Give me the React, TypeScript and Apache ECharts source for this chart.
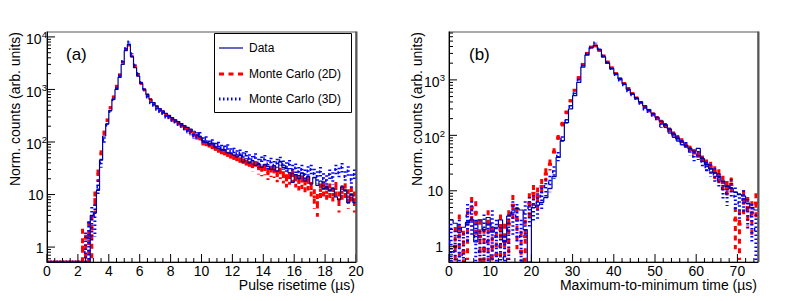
import { useEffect, useRef } from "react";
import * as echarts from "echarts";

const FONT = "'Liberation Sans', Arial, Helvetica, sans-serif";

// ---------- Panel (a): pulse risetime, 100 bins of 0.2 µs ----------
const A_BIN_WIDTH = 0.2;
const A_X_RANGE = [0, 20];
const A_Y_RANGE = [0.52, 12400];
const A_X_LABELS = [0, 2, 4, 6, 8, 10, 12, 14, 16, 18, 20];
const A_X_MINOR_STEP = 0.5;
const A_Y_DECADES = [1, 10, 100, 1000, 10000];
const A_Y_EXPONENTS = [0, 1, 2, 3, 4];

const A_DATA = [
  0, 0, 0, 0, 0, 0, 0, 0, 0, 0, 0, 0, 0, 0,
  4, 4.5, 12, 45, 130, 220, 400, 650, 1000, 1700, 3000, 5500, 7200, 4200, 2600, 1800,
  1300, 1000, 800, 650, 560, 480, 430, 390, 350, 320, 290, 265, 245, 225, 205, 190,
  175, 160, 150, 125, 105,
  98, 92, 95, 80, 76, 70, 72, 62, 60, 56, 52, 55, 42, 48, 40, 44, 36, 38, 33, 37,
  34, 30, 35, 28, 42, 33, 31, 26, 17, 24, 20, 26, 18, 22, 16, 21, 15, 18, 13, 14,
  12, 13, 9, 8, 14, 12, 7, 10, 7,
];
const A_MC2D = [
  0, 0, 0, 0, 0, 0, 0, 0, 0, 0, 0,
  1.0, 0.7, 1.6, 2.2, 8, 24, 60, 150, 260, 450, 720, 1150, 1900, 3300, 5800, 7000,
  4300, 2800, 1900, 1300, 980, 790, 640, 540, 470, 410, 370, 330, 300, 265, 250, 225,
  205, 185, 170, 160, 140, 130, 120, 95,
  92, 86, 80, 74, 68, 63, 60, 56, 52, 49, 46, 43, 41, 38, 36, 34, 36, 31, 29, 30,
  25, 28, 27, 23, 26, 22, 19, 21, 23, 19, 17, 18, 16, 17, 13, 9, 7, 12, 13, 11,
  12, 10, 13, 8, 11, 12, 9, 10, 8,
];
const A_MC3D = [
  0, 0, 0, 0, 0, 0, 0, 0, 0, 0, 0, 0,
  0.8, 1.5, 3.5, 4, 14, 40, 110, 210, 380, 640, 1050, 1800, 3400, 6000, 8000, 4800,
  2900, 2000, 1350, 1000, 720, 560, 500, 420, 380, 350, 300, 290, 260, 240, 215, 200,
  180, 160, 150, 130, 125, 140, 110,
  115, 95, 100, 85, 90, 78, 75, 80, 66, 68, 60, 62, 55, 58, 50, 46, 52, 40, 45, 48,
  38, 42, 36, 40, 44, 37, 34, 38, 30, 32, 27, 30, 24, 28, 30, 25, 22, 27, 20, 18,
  24, 21, 30, 26, 33, 22, 28, 19, 24,
];

// ---------- Panel (b): maximum-to-minimum time, 75 bins of 1 µs ----------
const B_BIN_WIDTH = 1;
const B_X_RANGE = [0, 75];
const B_Y_RANGE = [0.52, 7300];
const B_X_LABELS = [0, 10, 20, 30, 40, 50, 60, 70];
const B_X_MINOR_STEP = 2;
const B_Y_DECADES = [1, 10, 100, 1000];
const B_Y_EXPONENTS = [0, 1, 2, 3];

const B_DATA = [
  3.0, 2.6, 1.8, 2.2, 2.7, 3.0, 1.2, 3.0, 2.0, 3.3,
  1.8, 2.2, 3.0, 1.2, 3.5, 4.1, 4.8, 4.5, 2.0, 0,
  5, 5.5, 6.2, 7.5, 11, 18, 40, 80, 170, 300,
  520, 900, 1700, 2800, 3800, 4200, 3500, 2600, 2000, 1600,
  1300, 1050, 850, 680, 560, 470, 400, 340, 290, 250,
  210, 180, 155, 130, 105, 88, 76, 66, 57, 52,
  58, 38, 30, 25, 21, 18, 15, 12, 11, 9.5,
  8.5, 8, 6, 5, 4.5,
];
const B_MC2D = [
  0, 1.0, 2.0, 0.8, 2.5, 5.0, 4.0, 1.5, 0.9, 2.5,
  1.0, 0.7, 2.0, 1.2, 2.5, 5.5, 3.0, 0.8, 1.5, 6,
  9, 8, 12, 20, 30, 50, 90, 160, 260, 420,
  650, 1100, 1900, 3000, 3900, 4100, 3400, 2700, 2100, 1650,
  1300, 1050, 860, 700, 570, 470, 390, 330, 280, 240,
  205, 175, 150, 125, 105, 90, 78, 64, 56, 48,
  42, 36, 30, 27, 22, 19, 14, 11, 13, 3,
  2.5, 7, 5, 4, 6,
];
const B_MC3D = [
  1.2, 0.8, 1.5, 0.7, 3.5, 4.0, 1.5, 0.8, 2.0, 1.2,
  2.5, 1.5, 1.0, 0.6, 2.0, 4.0, 3.5, 1.5, 4.0, 5.0,
  5.5, 6, 8, 12, 14, 22, 42, 85, 180, 330,
  560, 1000, 1800, 2900, 3800, 4600, 3600, 2700, 2050, 1600,
  1250, 1000, 820, 640, 540, 460, 380, 300, 270, 230,
  200, 150, 150, 120, 100, 85, 72, 66, 52, 42,
  44, 34, 27, 24, 20, 16, 11, 9, 12, 8,
  6, 7, 4.5, 3.5, 2.0,
];

const LEGEND_LABELS = ["Data", "Monte Carlo (2D)", "Monte Carlo (3D)"];
const A_X_TITLE = "Pulse risetime (µs)";
const B_X_TITLE = "Maximum-to-minimum time (µs)";
const Y_TITLE = "Norm. counts (arb. units)";

const COLOR_DATA = "#000099";
const COLOR_2D = "#ff0000";
const COLOR_3D = "#0000ff";
const DASH_2D = [5, 4.5];
const DASH_3D = [1.5, 2.5];

function histErrSeries(xIdx: number, yIdx: number, values: number[], binW: number, yRange: number[], color: string, dash: number[], k: number, z: number) {
  const yMin = yRange[0], yMax = yRange[1];
  const data = values.map((v, i) => [i * binW, (i + 1) * binW, Math.min(Math.max(v, yMin), yMax), v > 0 ? Math.sqrt(v * k) : 0, v]);
  return {
    type: "custom",
    xAxisIndex: xIdx,
    yAxisIndex: yIdx,
    clip: true,
    silent: true,
    z,
    encode: { x: [0, 1], y: 2 },
    data,
    renderItem: (params: any, api: any) => {
      const lo = api.value(0), hi = api.value(1), yv = api.value(2), e = api.value(3), v = api.value(4);
      const a = api.coord([lo, yv]);
      const b = api.coord([hi, yv]);
      const style = { stroke: color, lineWidth: 3, lineDash: dash, fill: null };
      const children: any[] = [{ type: "line", shape: { x1: a[0], y1: a[1], x2: b[0], y2: b[1] }, style }];
      if (v > 0 && e > 0) {
        const mid = (lo + hi) / 2;
        const top = api.coord([mid, Math.min(v + e, yMax)]);
        const bot = api.coord([mid, Math.max(v - e, yMin)]);
        children.push({ type: "line", shape: { x1: top[0], y1: top[1], x2: bot[0], y2: bot[1] }, style });
      }
      return { type: "group", children };
    },
  };
}

function stepSeries(xIdx: number, yIdx: number, values: number[], binW: number, yRange: number[]) {
  const pts = values.map((v, i) => [i * binW, Math.max(v, yRange[0])]);
  pts.push([values.length * binW, Math.max(values[values.length - 1], yRange[0])]);
  return {
    type: "line",
    xAxisIndex: xIdx,
    yAxisIndex: yIdx,
    step: "end",
    symbol: "none",
    silent: true,
    clip: true,
    z: 4,
    data: pts,
    lineStyle: { color: COLOR_DATA, width: 1.2 },
  };
}

function decorSeries(xIdx: number, yIdx: number, cfg: any) {
  const specs: any[] = [];
  const [xMin, xMax] = cfg.xRange;
  const [yMin, yMax] = cfg.yRange;
  const n = Math.floor((xMax - xMin) / cfg.xMinorStep + 1e-9);
  for (let i = 0; i <= n; i++) {
    const t = xMin + i * cfg.xMinorStep;
    const major = cfg.xLabels.some((l: number) => Math.abs(l - t) < 1e-9);
    if (!major) specs.push({ kind: "tick", x: t, y: yMin, dx: 0, dy: -4 });
  }
  for (const t of cfg.xLabels) {
    specs.push({ kind: "tick", x: t, y: yMin, dx: 0, dy: -8 });
    specs.push({ kind: "text", x: t, y: yMin, ox: 0, oy: 8.5, text: String(t), size: 14, align: "center" });
  }
  const bases = [0.1, 1, 10, 100, 1000, 10000];
  for (const b of bases) {
    for (let m = 2; m <= 9; m++) {
      const v = m * b;
      if (v > yMin && v < yMax) specs.push({ kind: "tick", x: xMin, y: v, dx: 4, dy: 0 });
    }
  }
  cfg.yDecades.forEach((d: number, i: number) => {
    const e = cfg.yExps[i];
    specs.push({ kind: "tick", x: xMin, y: d, dx: 8, dy: 0 });
    if (e <= 1) {
      specs.push({ kind: "text", x: xMin, y: d, ox: -cfg.gap, oy: 0.5, text: String(d), size: 14, align: "right" });
    } else {
      specs.push({ kind: "text", x: xMin, y: d, ox: -cfg.powGap, oy: 2.5, text: "10", size: 14, align: "right" });
      specs.push({ kind: "text", x: xMin, y: d, ox: -cfg.powGap + 0.3, oy: -2, text: String(e), size: 9.5, align: "left" });
    }
  });
  return {
    type: "custom",
    xAxisIndex: xIdx,
    yAxisIndex: yIdx,
    clip: false,
    silent: true,
    z: 10,
    encode: { x: 0, y: 1 },
    data: specs.map((s) => [s.x, s.y]),
    renderItem: (params: any, api: any) => {
      const s = specs[params.dataIndex];
      const p = api.coord([s.x, s.y]);
      if (s.kind === "tick") {
        return { type: "line", shape: { x1: p[0], y1: p[1], x2: p[0] + s.dx, y2: p[1] + s.dy }, style: { stroke: "#000", lineWidth: 1 } };
      }
      return {
        type: "text",
        x: p[0] + s.ox,
        y: p[1] + s.oy,
        style: { text: s.text, fontSize: s.size, fontFamily: FONT, fill: "#000", align: s.align, verticalAlign: "middle" },
      };
    },
  };
}

function axisPair(gridIndex: number, xRange: number[], yRange: number[]) {
  const line = { show: true, onZero: false, lineStyle: { color: "#000", width: 1 } };
  return {
    x: { gridIndex, type: "value", min: xRange[0], max: xRange[1], axisLine: line, axisTick: { show: false }, axisLabel: { show: false }, splitLine: { show: false } },
    y: { gridIndex, type: "log", logBase: 10, min: yRange[0], max: yRange[1], axisLine: line, axisTick: { show: false }, axisLabel: { show: false }, splitLine: { show: false }, minorTick: { show: false } },
  };
}

function buildOption() {
  const ax0 = axisPair(0, A_X_RANGE, A_Y_RANGE);
  const ax1 = axisPair(1, B_X_RANGE, B_Y_RANGE);
  const gridStyle = { show: true, borderColor: "#555", borderWidth: 1.2, backgroundColor: "transparent" };
  const txt = (x: number, y: number, text: string, size: number, align: string, vAlign = "middle", extra: any = {}) => ({
    type: "text",
    x,
    y,
    z: 20,
    ...extra,
    style: { text, fontSize: size, fontFamily: FONT, fill: "#000", align, verticalAlign: vAlign },
  });
  const legendY = [48, 74, 99];
  const graphic: any[] = [
    { type: "line", z: 15, shape: { x1: 356.5, y1: 31.5, x2: 356.5, y2: 262 }, style: { stroke: "#555", lineWidth: 2 } },
    { type: "line", z: 15, shape: { x1: 758.5, y1: 31.5, x2: 758.5, y2: 262 }, style: { stroke: "#555", lineWidth: 2 } },
    txt(66, 54, "(a)", 17, "left"),
    txt(469, 54, "(b)", 17, "left"),
    txt(355, 285, A_X_TITLE, 14, "right"),
    txt(757, 285, B_X_TITLE, 14, "right"),
    txt(22, 32, Y_TITLE, 14, "right", "bottom", { rotation: Math.PI / 2 }),
    txt(424, 32, Y_TITLE, 14, "right", "bottom", { rotation: Math.PI / 2 }),
    { type: "rect", z: 18, shape: { x: 214.5, y: 33.5, width: 137, height: 79 }, style: { fill: "#fff", stroke: "#000", lineWidth: 1 } },
    { type: "line", z: 19, shape: { x1: 219, y1: legendY[0], x2: 243, y2: legendY[0] }, style: { stroke: COLOR_DATA, lineWidth: 1.2 } },
    { type: "line", z: 19, shape: { x1: 219, y1: legendY[1], x2: 243, y2: legendY[1] }, style: { stroke: COLOR_2D, lineWidth: 3, lineDash: DASH_2D } },
    { type: "line", z: 19, shape: { x1: 219, y1: legendY[2], x2: 243, y2: legendY[2] }, style: { stroke: COLOR_3D, lineWidth: 3, lineDash: DASH_3D } },
    ...LEGEND_LABELS.map((l, i) => txt(249, legendY[i], l, 12, "left")),
  ];
  return {
    animation: false,
    backgroundColor: "#fff",
    grid: [
      { left: 47, top: 32, width: 309, height: 230, ...gridStyle },
      { left: 449, top: 32, width: 309, height: 230, ...gridStyle },
    ],
    xAxis: [ax0.x, ax1.x],
    yAxis: [ax0.y, ax1.y],
    series: [
      histErrSeries(0, 0, A_MC2D, A_BIN_WIDTH, A_Y_RANGE, COLOR_2D, DASH_2D, 1.5, 2),
      histErrSeries(0, 0, A_MC3D, A_BIN_WIDTH, A_Y_RANGE, COLOR_3D, DASH_3D, 1.5, 3),
      stepSeries(0, 0, A_DATA, A_BIN_WIDTH, A_Y_RANGE),
      decorSeries(0, 0, { xRange: A_X_RANGE, yRange: A_Y_RANGE, xLabels: A_X_LABELS, xMinorStep: A_X_MINOR_STEP, yDecades: A_Y_DECADES, yExps: A_Y_EXPONENTS, gap: 3.5, powGap: 5.5 }),
      histErrSeries(1, 1, B_MC2D, B_BIN_WIDTH, B_Y_RANGE, COLOR_2D, DASH_2D, 1.5, 2),
      histErrSeries(1, 1, B_MC3D, B_BIN_WIDTH, B_Y_RANGE, COLOR_3D, DASH_3D, 1.5, 3),
      stepSeries(1, 1, B_DATA, B_BIN_WIDTH, B_Y_RANGE),
      decorSeries(1, 1, { xRange: B_X_RANGE, yRange: B_Y_RANGE, xLabels: B_X_LABELS, xMinorStep: B_X_MINOR_STEP, yDecades: B_Y_DECADES, yExps: B_Y_EXPONENTS, gap: 6, powGap: 9.5 }),
    ],
    graphic,
  };
}

export default function App() {
  const ref = useRef<HTMLDivElement>(null);
  useEffect(() => {
    const chart = echarts.init(ref.current!, null, { renderer: "svg" });
    chart.setOption(buildOption() as any);
    return () => chart.dispose();
  }, []);
  return <div ref={ref} style={{ position: "fixed", left: 0, top: 0, width: 806, height: 301, background: "#fff" }} />;
}
